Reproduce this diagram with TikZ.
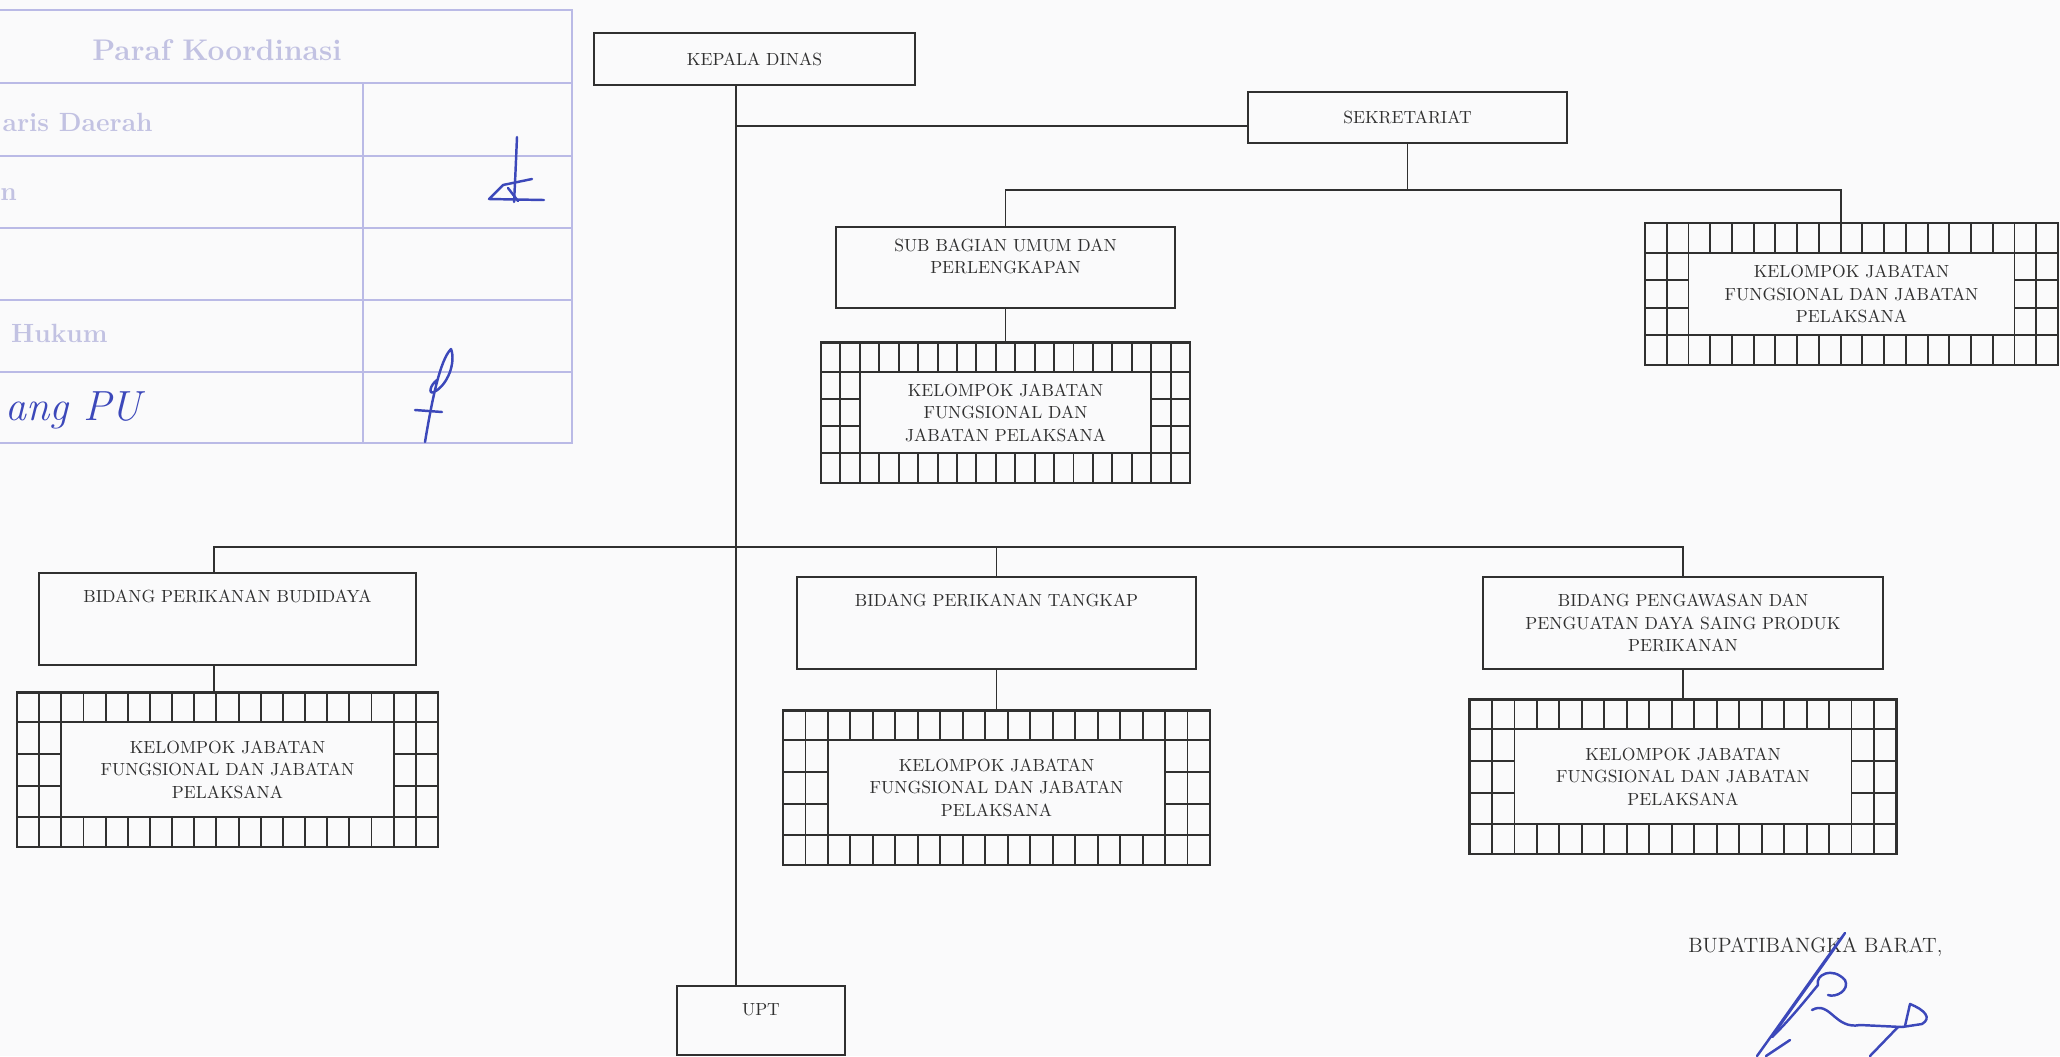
\documentclass[tikz,border=0pt]{standalone}
\usepackage{fontspec}
\usetikzlibrary{positioning, calc}

\definecolor{ink}{RGB}{48,48,48}
\definecolor{paraf}{RGB}{186,186,230}
\definecolor{parafText}{RGB}{194,194,226}
\definecolor{tinta}{RGB}{60,72,186}
\definecolor{kertas}{RGB}{250,250,251}

\newcommand{\boxfont}{\fontsize{10}{12.8}\selectfont}
\newcommand{\stripH}{0.6cm}

\begin{document}
\begin{tikzpicture}[
  x=0.02cm, y=-0.02cm,
  unit/.style={draw=ink, line width=1.4pt, align=center, text=ink,
               font=\boxfont, inner sep=2pt},
  frameline/.style={draw=ink, line width=1.1pt},
  kelompok/.style={unit, line width=1.3pt,
    path picture={
      \coordinate (fnw) at (path picture bounding box.north west);
      \coordinate (fse) at (path picture bounding box.south east);
      \coordinate (fne) at (fse|-fnw);
      \coordinate (fsw) at (fnw|-fse);
      \coordinate (fa) at ($(fnw)+(0,-\stripH)$);
      \coordinate (fb) at ($(fsw)+(0,\stripH)$);
      \coordinate (fc) at ($(fne)+(0,-\stripH)$);
      \coordinate (fd) at ($(fse)+(0,\stripH)$);
      \coordinate (fl) at ($(fnw)!2/19!(fne)$);
      \coordinate (fr) at ($(fnw)!17/19!(fne)$);
      % inner box and strips
      \draw[frameline] (fl|-fa) rectangle (fr|-fb);
      \draw[frameline] (fa) -- (fc) (fb) -- (fd);
      \draw[frameline] ($(fnw)!1/19!(fne)$) -- ($(fsw)!1/19!(fse)$);
      \draw[frameline] ($(fnw)!18/19!(fne)$) -- ($(fsw)!18/19!(fse)$);
      \foreach \i in {1,...,18} {
        \draw[frameline] ($(fnw)!\i/19!(fne)$) -- ($(fa)!\i/19!(fc)$);
        \draw[frameline] ($(fsw)!\i/19!(fse)$) -- ($(fb)!\i/19!(fd)$);
      }
      % side ticks
      \foreach \t in {0.3333,0.6667} {
        \draw[frameline] ($(fa)!\t!(fb)$) coordinate (ft) -- (ft -| fl);
        \draw[frameline] ($(fc)!\t!(fd)$) coordinate (fu) -- (fu -| fr);
      }
    }},
  conn/.style={draw=ink, line width=1.1pt},
  paraf/.style={draw=paraf, line width=0.9pt},
  parafnote/.style={text=parafText, font=\fontsize{15}{17}\selectfont\bfseries, inner sep=0pt},
  sign/.style={draw=tinta, line width=1.4pt, line cap=round, line join=round},
]

\fill[kertas] (0,0) rectangle (2060,1056);
\useasboundingbox (0,0) rectangle (2060,1056);

% --- Paraf Koordinasi table (scan) ---
\draw[paraf] (0,10) -- (572,10) -- (572,443) -- (0,443);
\foreach \yy in {83,156,228,300,372}
  \draw[paraf] (0,\yy) -- (572,\yy);
\draw[paraf] (363,83) -- (363,443);
\node[parafnote, font=\fontsize{17}{19}\selectfont\bfseries] (paraftitle) at (217,50) {Paraf Koordinasi};
\node[parafnote, anchor=east] (sekda) at (153,122) {aris Daerah};
\node[parafnote, anchor=west] (asisten) at (0,195) {n};
\node[parafnote, anchor=east] (hukum) at (108,333) {Hukum};
\node[text=tinta, font=\fontsize{24}{26}\selectfont\itshape, anchor=east, inner sep=0pt] (bidpu) at (142,410) {ang PU};

% paraf signatures
\draw[sign] (517,137) .. controls (516,160) and (515,185) .. (514,202);
\draw[sign] (532,179) -- (503,185) -- (489,199) -- (544,200);
\draw[sign] (508,188) -- (518,201);
\draw[sign] (425,442) .. controls (432,400) and (440,360) .. (451,349)
  .. controls (456,362) and (448,385) .. (434,392)
  .. controls (428,395) and (430,385) .. (437,380);
\draw[sign] (415,410) -- (442,412);

% --- Top level ---
\node[unit, minimum width=6.42cm, minimum height=1.04cm] (kadis) at (754.5,59) {KEPALA DINAS};
\node[unit, minimum width=6.38cm, minimum height=1.02cm] (sekre) at (1407.5,117.5) {SEKRETARIAT};

\node[unit, minimum width=6.78cm, minimum height=1.62cm] (subbag) at (1005.5,267.5)
  {SUB BAGIAN UMUM DAN\\PERLENGKAPAN\\~};
\node[kelompok, minimum width=7.38cm, minimum height=2.82cm, below=0.64cm of subbag] (kel1)
  {KELOMPOK JABATAN\\FUNGSIONAL DAN\\JABATAN PELAKSANA};
\node[kelompok, minimum width=8.26cm, minimum height=2.84cm] (kel2) at (1851.5,294)
  {KELOMPOK JABATAN\\FUNGSIONAL DAN JABATAN\\PELAKSANA};

% --- Bidang ---
\node[unit, minimum width=7.54cm, minimum height=1.84cm] (budidaya) at (227.5,619)
  {BIDANG PERIKANAN BUDIDAYA\\~\\~};
\node[kelompok, minimum width=8.42cm, minimum height=3.1cm, below=0.5cm of budidaya] (kel3)
  {KELOMPOK JABATAN\\FUNGSIONAL DAN JABATAN\\PELAKSANA};

\node[unit, minimum width=7.98cm, minimum height=1.84cm] (tangkap) at (996.5,623)
  {BIDANG PERIKANAN TANGKAP\\~\\~};
\node[kelompok, minimum width=8.54cm, minimum height=3.1cm, below=0.78cm of tangkap] (kel4)
  {KELOMPOK JABATAN\\FUNGSIONAL DAN JABATAN\\PELAKSANA};

\node[unit, minimum width=8cm, minimum height=1.84cm] (awas) at (1683,623)
  {BIDANG PENGAWASAN DAN\\PENGUATAN DAYA SAING PRODUK\\PERIKANAN};
\node[kelompok, minimum width=8.54cm, minimum height=3.1cm, below=0.56cm of awas] (kel5)
  {KELOMPOK JABATAN\\FUNGSIONAL DAN JABATAN\\PELAKSANA};

\node[unit, minimum width=3.36cm, minimum height=1.38cm] (upt) at (761,1020.5) {UPT\\~};

% --- Lines ---
\coordinate (trunk) at (736,0);
\coordinate (bidbus) at (736,547);
\coordinate (sekbus) at ([yshift=-0.92cm]sekre.south);
\coordinate (sekin) at ([yshift=-0.17cm]sekre.west);

\draw[conn] (kadis.south -| trunk) -- (trunk |- upt.north);
\draw[conn] (trunk |- sekin) -- (sekin);
\draw[conn] (sekre.south) -- (sekbus);
\draw[conn] (subbag.north) |- (sekbus) -| ([xshift=-0.21cm]kel2.north);
\draw[conn] (subbag.south) -- (kel1.north);

\draw[conn] ([xshift=-0.27cm]budidaya.north) |- (bidbus) -| (awas.north);
\draw[conn] (tangkap.north) -- (tangkap.north |- bidbus);
\draw[conn] ([xshift=-0.27cm]budidaya.south) -- ([xshift=-0.27cm]kel3.north);
\draw[conn] (tangkap.south) -- (kel4.north);
\draw[conn] (awas.south) -- (kel5.north);

% --- Signature block ---
\node[anchor=west, text=ink, font=\fontsize{11.8}{14}\selectfont, inner sep=0pt] (bupati) at (1688,947)
  {BUPATIBANGKA BARAT,};
\draw[sign] (1757,1056) .. controls (1790,1010) and (1825,960) .. (1845,933)
  .. controls (1820,970) and (1790,1010) .. (1772,1037);
\draw[sign] (1772,1037) .. controls (1790,1020) and (1812,992) .. (1818,985)
  .. controls (1815,975) and (1832,966) .. (1845,980)
  .. controls (1850,990) and (1836,998) .. (1828,995);
\draw[sign] (1812,1010) .. controls (1830,1000) and (1835,1030) .. (1860,1025) -- (1902,1027);
\draw[sign] (1905,1026) -- (1910,1004) .. controls (1925,1010) and (1932,1018) .. (1922,1024) -- (1902,1027);
\draw[sign] (1898,1027) -- (1870,1056);
\draw[sign] (1790,1040) -- (1766,1056);

\end{tikzpicture}
\end{document}
